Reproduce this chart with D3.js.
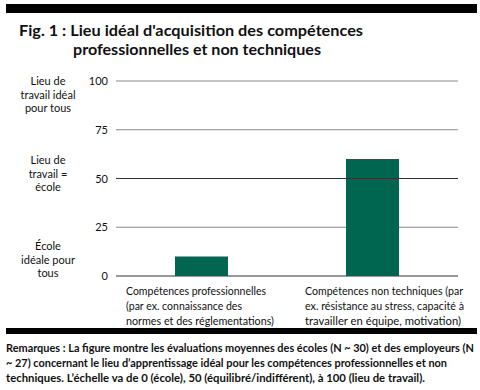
<!DOCTYPE html>
<html>
<head>
<meta charset="utf-8">
<script src="https://cdn.jsdelivr.net/npm/d3@7"></script>
<style>
  body { margin: 0; background: #fff; }
  svg text { font-family: Lato, "Open Sans", sans-serif; fill: #111; }
</style>
</head>
<body>
<div id="chart-container"></div>
<script>
// Data
const categories = [
    ["Compétences professionnelles", "(par ex. connaissance des", "normes et des réglementations)"],
    ["Compétences non techniques (par", "ex. résistance au stress, capacité à", "travailler en équipe, motivation)"]
];
const values = [10, 60];
const yTicks = [0, 25, 50, 75, 100];
const sideLabelLines = [
    ["Lieu de", "travail idéal", "pour tous"],
    ["Lieu de", "travail =", "école"],
    ["École", "idéale pour", "tous"]
];
const titleLines = ["Fig. 1 : Lieu idéal d'acquisition des compétences", "professionnelles et non techniques"];
const noteLines = [
    "Remarques : La figure montre les évaluations moyennes des écoles (N ~ 30) et des employeurs (N",
    "~ 27) concernant le lieu d’apprentissage idéal pour les compétences professionnelles et non",
    "techniques. L’échelle va de 0 (école), 50 (équilibré/indifférent), à 100 (lieu de travail)."
];

const W = 480, H = 390;
const svg = d3.select("#chart-container")
    .append("svg")
    .attr("width", W)
    .attr("height", H);

// Squeeze a text to a given width
function fit(sel, w) {
    sel.attr("textLength", w).attr("lengthAdjust", "spacingAndGlyphs");
}

// Top and bottom black rules
svg.append("rect").attr("x", 6).attr("y", 4).attr("width", 471).attr("height", 9).attr("fill", "#000");
svg.append("rect").attr("x", 6).attr("y", 328).attr("width", 471).attr("height", 6).attr("fill", "#000");

// Title
const titleWidths = [344, 248];
titleLines.forEach((l, i) => {
    svg.append("text")
        .attr("x", i === 0 ? 19 : 73).attr("y", 36 + i * 19)
        .style("font-size", "15px").style("font-weight", "bold")
        .text(l)
        .call(fit, titleWidths[i]);
});

const x = d3.scaleBand().domain(d3.range(categories.length)).range([116, 458]).paddingInner(0.69).paddingOuter(0.345);
const y = d3.scaleLinear().domain([0, 100]).range([276, 81]);

// Grid lines (except 50, which sits on top of the bars)
svg.selectAll(".grid")
    .data(yTicks.filter(d => d !== 50))
    .enter().append("line")
    .attr("x1", 116).attr("x2", 458)
    .attr("y1", d => y(d)).attr("y2", d => y(d))
    .attr("stroke", d => d === 0 ? "#333" : "#8a8a8a")
    .attr("stroke-width", 1.2);

// Tick labels
svg.selectAll(".tick-label")
    .data(yTicks)
    .enter().append("text")
    .attr("x", 108).attr("y", d => y(d) + 4)
    .attr("text-anchor", "end")
    .style("font-size", "11px")
    .text(d => d);

// Bars
svg.selectAll(".bar")
    .data(values)
    .enter().append("rect")
    .attr("x", (d, i) => x(i))
    .attr("y", d => y(d))
    .attr("width", x.bandwidth())
    .attr("height", d => y(0) - y(d))
    .attr("fill", "#00664f");

// 50 line drawn over bars
svg.append("line")
    .attr("x1", 116).attr("x2", 458)
    .attr("y1", y(50)).attr("y2", y(50))
    .attr("stroke", "#333").attr("stroke-width", 1.2);

// Side labels (first line baseline)
const sideY = [85, 164, 250];
sideLabelLines.forEach((s, si) => {
    s.forEach((l, i) => {
        svg.append("text")
            .attr("x", 48).attr("y", sideY[si] + i * 13.5)
            .attr("text-anchor", "middle")
            .style("font-size", "11px")
            .text(l);
    });
});

// Category labels
const labelX = [126, 305];
const labelWidths = [[140, 116, 148], [158, 159, 156]];
categories.forEach((c, ci) => {
    c.forEach((l, i) => {
        svg.append("text")
            .attr("x", labelX[ci]).attr("y", 295 + i * 15.2)
            .style("font-size", "10.5px")
            .text(l)
            .call(fit, labelWidths[ci][i]);
    });
});

// Notes
const noteWidths = [468, 441, 419];
noteLines.forEach((l, i) => {
    svg.append("text")
        .attr("x", 6).attr("y", 352 + i * 15)
        .style("font-size", "10.5px").style("font-weight", "bold")
        .text(l)
        .call(fit, noteWidths[i]);
});
</script>
</body>
</html>
